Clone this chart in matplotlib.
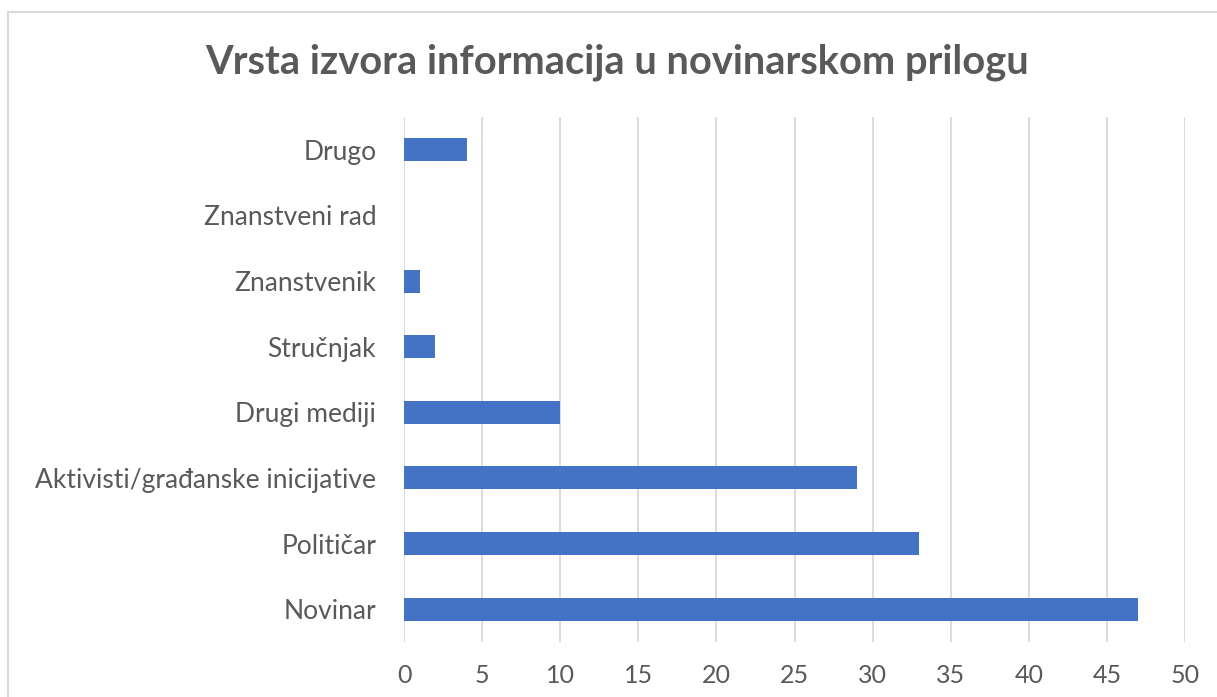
import matplotlib.pyplot as plt
from matplotlib.patches import Rectangle

categories = ["Novinar", "Političar", "Aktivisti/građanske inicijative", "Drugi mediji",
              "Stručnjak", "Znanstvenik", "Znanstveni rad", "Drugo"]
values = [47, 33, 29, 10, 2, 1, 0, 4]
x_ticks = [0, 5, 10, 15, 20, 25, 30, 35, 40, 45, 50]

plt.rcParams['font.family'] = ['Lato', 'DejaVu Sans']
gray = '#595959'

fig = plt.figure(figsize=(12.17, 6.97), dpi=100)
ax = fig.add_axes([0.332, 0.0789, 0.6417, 0.7532])

ax.barh(range(len(categories)), values, height=0.35, color='#4472C4', zorder=3)
ax.set_ylim(-0.5, len(categories) - 0.5)
ax.set_xlim(0, 50)
ax.set_xticks(x_ticks)
ax.set_yticks(range(len(categories)))
ax.set_yticklabels(categories)
ax.grid(axis='x', color='#d9d9d9', linewidth=1.3, zorder=0)
ax.tick_params(length=0, labelcolor=gray)
ax.tick_params(axis='y', pad=20, labelsize=19)
ax.tick_params(axis='x', pad=16, labelsize=18)
for s in ax.spines.values():
    s.set_visible(False)

fig.text(0.507, 0.911, "Vrsta izvora informacija u novinarskom prilogu",
         ha='center', va='center', fontsize=28.7, fontweight='bold', color=gray)

# chart border
fig.patches.append(Rectangle((8 / 1217, -0.1), 1.2, 1 - 12 / 697 + 0.1,
                             transform=fig.transFigure, fill=False,
                             edgecolor='#d9d9d9', linewidth=1.5))

fig.savefig('out.png', dpi=100)
